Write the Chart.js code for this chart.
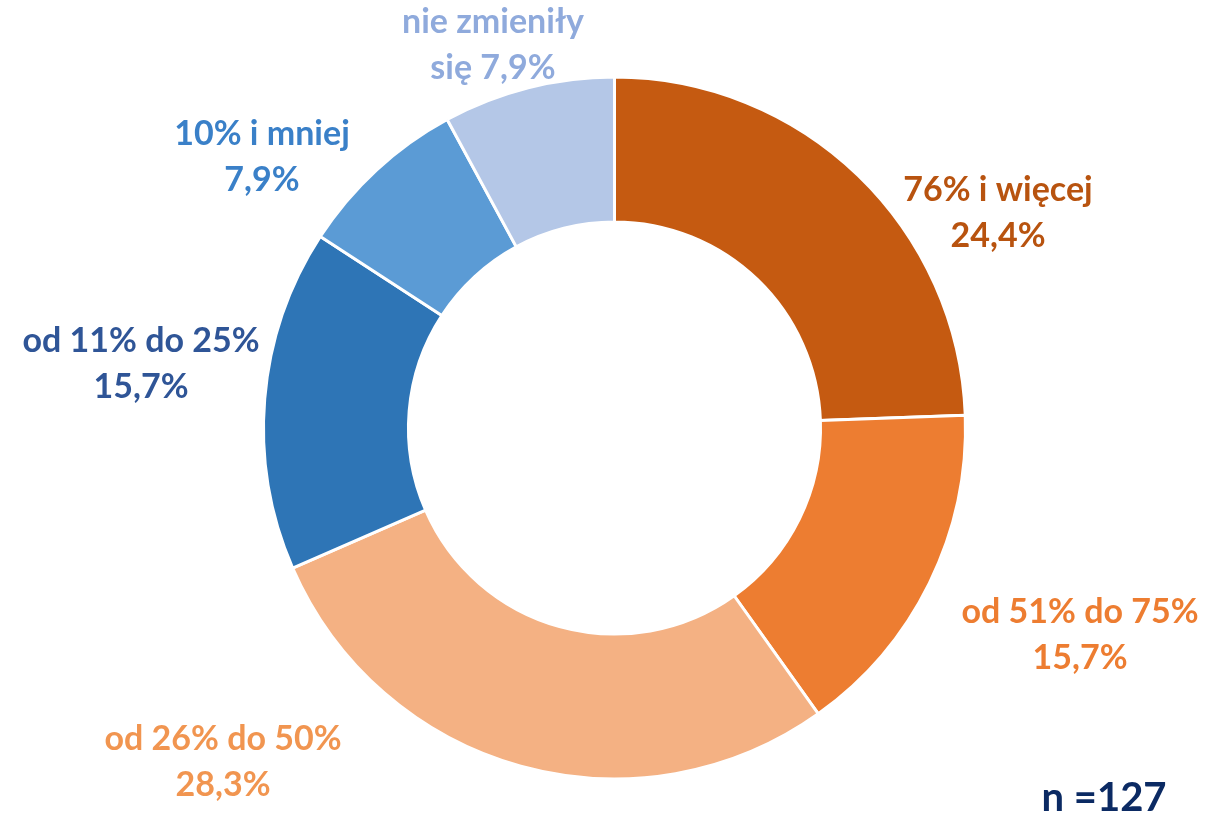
<!DOCTYPE html>
<html>
<head>
<meta charset="utf-8">
<script src="https://cdn.jsdelivr.net/npm/chart.js@4.4.1/dist/chart.umd.min.js"></script>
<style>
  html, body { margin: 0; padding: 0; background: #ffffff; }
  #wrap { width: 1225px; height: 816px; position: relative; }
</style>
</head>
<body>
<div id="wrap"><canvas id="c" width="1225" height="816"></canvas></div>
<script>
// Data
const categories = ["76% i więcej", "od 51% do 75%", "od 26% do 50%", "od 11% do 25%", "10% i mniej", "nie zmieniły się"];
const values = [24.4, 15.7, 28.3, 15.7, 7.9, 7.9];
const labelLines = [
  ["76% i więcej", "24,4%"],
  ["od 51% do 75%", "15,7%"],
  ["od 26% do 50%", "28,3%"],
  ["od 11% do 25%", "15,7%"],
  ["10% i mniej", "7,9%"],
  ["nie zmieniły", "się 7,9%"]
];
const sampleSize = "n =127";

// Styles
const sliceColors = ["#C55A11", "#ED7D31", "#F4B183", "#2E75B6", "#5B9BD5", "#B4C7E7"];
const labelColors = ["#B8530F", "#ED7D31", "#F19550", "#2F5597", "#3A80C8", "#8FAADC"];
// label block centers (layout)
const labelPos = [
  [998, 190], [1080, 612], [223, 739], [141, 341], [262, 134], [493, 22]
];
const FONT = "Lato, 'Open Sans', sans-serif";

const labelPlugin = {
  id: 'sliceLabels',
  afterDraw(chart) {
    const ctx = chart.ctx;
    ctx.save();
    ctx.textAlign = 'center';
    ctx.textBaseline = 'middle';
    ctx.font = "bold 34px " + FONT;
    labelLines.forEach((lines, i) => {
      ctx.fillStyle = labelColors[i];
      const [x, y] = labelPos[i];
      lines.forEach((t, j) => ctx.fillText(t, x, y + j * 46));
    });
    ctx.font = "bold 40px " + FONT;
    ctx.fillStyle = "#0B2A63";
    ctx.fillText(sampleSize, 1104, 798);
    ctx.restore();
  }
};

new Chart(document.getElementById('c'), {
  type: 'doughnut',
  data: {
    labels: categories,
    datasets: [{
      data: values,
      backgroundColor: sliceColors,
      borderColor: '#ffffff',
      borderWidth: 3
    }]
  },
  options: {
    responsive: false,
    animation: false,
    radius: 351,
    cutout: '58.7%',
    layout: { padding: { top: 77, bottom: 37, left: 4, right: 0 } },
    plugins: {
      legend: { display: false },
      tooltip: { enabled: false }
    }
  },
  plugins: [labelPlugin]
});
</script>
</body>
</html>
